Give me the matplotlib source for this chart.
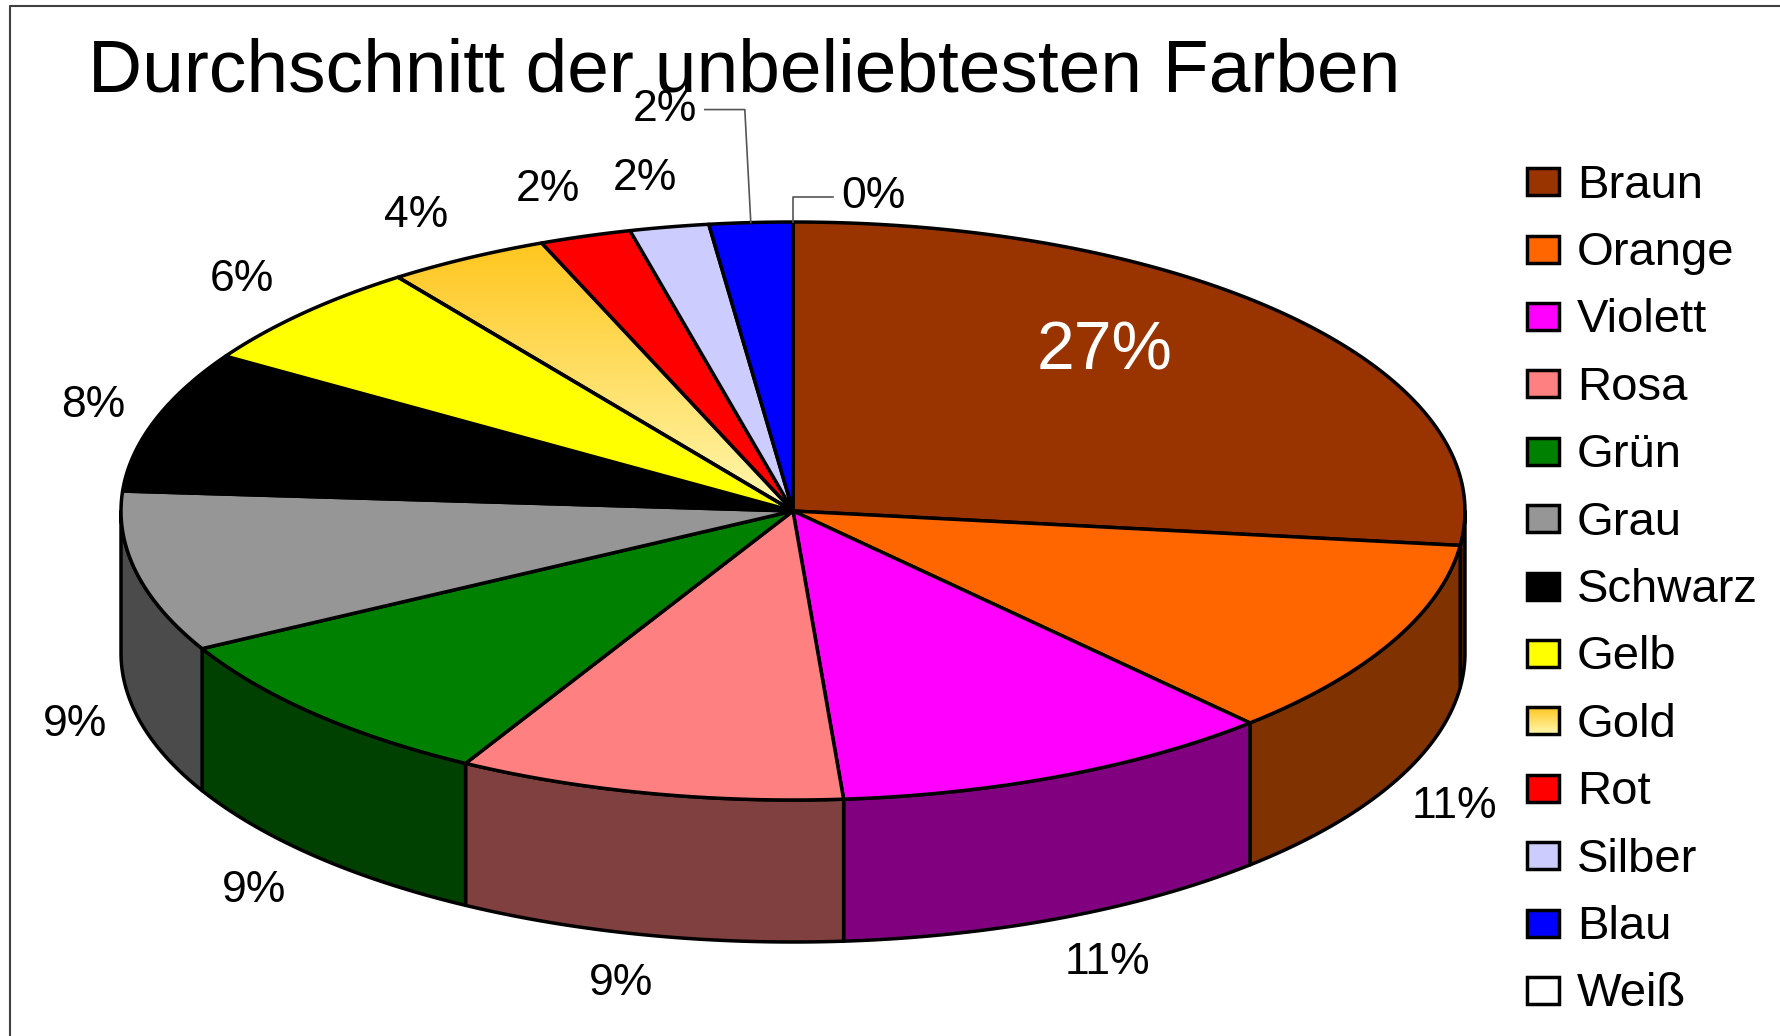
import numpy as np
import matplotlib.pyplot as plt
from matplotlib.patches import Polygon, Rectangle

# data
labels = ['Braun', 'Orange', 'Violett', 'Rosa', 'Grün', 'Grau', 'Schwarz',
          'Gelb', 'Gold', 'Rot', 'Silber', 'Blau', 'Weiß']
values = [26.9, 11.2, 10.7, 9.3, 9.0, 9.0, 7.9, 6.0, 3.9, 2.2, 1.9, 2.0, 0.0]
colors = ['#993300', '#FF6600', '#FF00FF', '#FF8080', '#008000', '#969696',
          '#000000', '#FFFF00', '#FFD040', '#FF0000', '#CCCCFF', '#0000FF',
          '#FFFFFF']
gold_top = '#FFC61E'
gold_bottom = '#FFF8B0'
title = 'Durchschnitt der unbeliebtesten Farben'

plt.rcParams['font.family'] = ['Liberation Sans', 'DejaVu Sans']

W, H = 1780, 1036
fig = plt.figure(figsize=(W / 100, H / 100), dpi=100)
ax = fig.add_axes([0, 0, 1, 1])

# pie geometry in pixels
cx, cy = 793, 511
rx, ry = 672, 289
depth = 142
edge_lw = 2.5


def ell(t, dy=0.0, kx=1.0, ky=1.0):
    t = np.radians(t)
    return cx + rx * kx * np.cos(t), cy - ry * ky * np.sin(t) + dy


def to_rgb(h):
    h = h.lstrip('#')
    return np.array([int(h[i:i + 2], 16) for i in (0, 2, 4)]) / 255.0


def gradient_fill(patch, y0, y1, x0, x1):
    g = np.linspace(0, 1, 256)[:, None, None]
    img = to_rgb(gold_top) * (1 - g) + to_rgb(gold_bottom) * g
    im = ax.imshow(img, extent=[x0, x1, y1, y0], aspect='auto',
                   origin='upper', zorder=patch.get_zorder() - 0.1)
    im.set_clip_path(patch)


vals = np.array(values)
cum = np.concatenate([[0], np.cumsum(vals)]) / vals.sum()
starts = 90 - 360 * cum[:-1]
ends = 90 - 360 * cum[1:]

# side walls (front half only)
for i in range(len(vals)):
    a0, a1 = starts[i], ends[i]
    hi, lo = min(a0, 0), max(a1, -180)
    if hi <= lo:
        continue
    ts = np.linspace(hi, lo, 80)
    xs, ys = ell(ts)
    xb, yb = ell(ts[::-1], depth)
    pts = np.column_stack([np.concatenate([xs, xb]), np.concatenate([ys, yb])])
    side = to_rgb(colors[i]) * 0.5
    ax.add_patch(Polygon(pts, closed=True, facecolor=side, edgecolor='black',
                         lw=edge_lw, joinstyle='round', zorder=1))

# top faces
for i in range(len(vals)):
    if vals[i] <= 0:
        continue
    ts = np.linspace(starts[i], ends[i], 120)
    xs, ys = ell(ts)
    pts = np.column_stack([np.concatenate([[cx], xs]), np.concatenate([[cy], ys])])
    if labels[i] == 'Gold':
        p = Polygon(pts, closed=True, facecolor='none', edgecolor='black',
                    lw=edge_lw, joinstyle='round', zorder=3)
        ax.add_patch(p)
        gradient_fill(p, pts[:, 1].min(), pts[:, 1].max(),
                      pts[:, 0].min(), pts[:, 0].max())
    else:
        ax.add_patch(Polygon(pts, closed=True, facecolor=colors[i],
                             edgecolor='black', lw=edge_lw,
                             joinstyle='round', zorder=3))

# percentage labels
lab_size = 32
leader = {'Blau': (-6, -113, -40), 'Weiß': (0, -25, 40)}
for i in range(len(vals)):
    txt = '%d%%' % round(values[i])
    tm = (starts[i] + ends[i]) / 2
    if labels[i] in leader:
        ax0, ay0 = ell(tm)
        dx, dy, hx = leader[labels[i]]
        ex, ey = ax0 + dx, ay0 + dy
        ax.plot([ax0, ex, ex + hx], [ay0, ey, ey], color='#555555',
                lw=1.2, zorder=4)
        ax.text(ex + hx + (8 if hx > 0 else -8), ey, txt, fontsize=lab_size,
                ha='left' if hx > 0 else 'right', va='center', zorder=5)
        continue
    if i == 0:
        x, y = ell(tm, kx=0.62, ky=0.83)
        ax.text(x, y, txt, fontsize=49, color='white', ha='center',
                va='center', zorder=5)
        continue
    c = np.cos(np.radians(tm))
    s = np.sin(np.radians(tm))
    kx = 1.09 + 0.13 * (1 - abs(c))
    x, y = ell(tm, dy=depth if s < 0 else 0, kx=kx, ky=1.17)
    ax.text(x, y, txt, fontsize=lab_size, ha='center', va='center', zorder=5)

# legend
lx, ly0, step = 1527, 181.6, 67.4
sw, sh = 32, 27
for i, name in enumerate(labels):
    y = ly0 + i * step
    r = Rectangle((lx, y - sh / 2), sw, sh, facecolor=colors[i],
                  edgecolor='black', lw=edge_lw, zorder=3)
    if name == 'Gold':
        r.set_facecolor('none')
        ax.add_patch(r)
        gradient_fill(r, y - sh / 2, y + sh / 2, lx, lx + sw)
    else:
        ax.add_patch(r)
    ax.text(lx + 50, y + 16, name, fontsize=34, ha='left', va='baseline')

# title and chart frame
ax.text(88, 91, title, fontsize=54, ha='left', va='baseline')
ax.plot([10, 10, W], [H, 6, 6], color='#404040', lw=1.5)

ax.set_xlim(0, W)
ax.set_ylim(H, 0)
ax.axis('off')
fig.savefig('out.png', dpi=100, facecolor='white')
